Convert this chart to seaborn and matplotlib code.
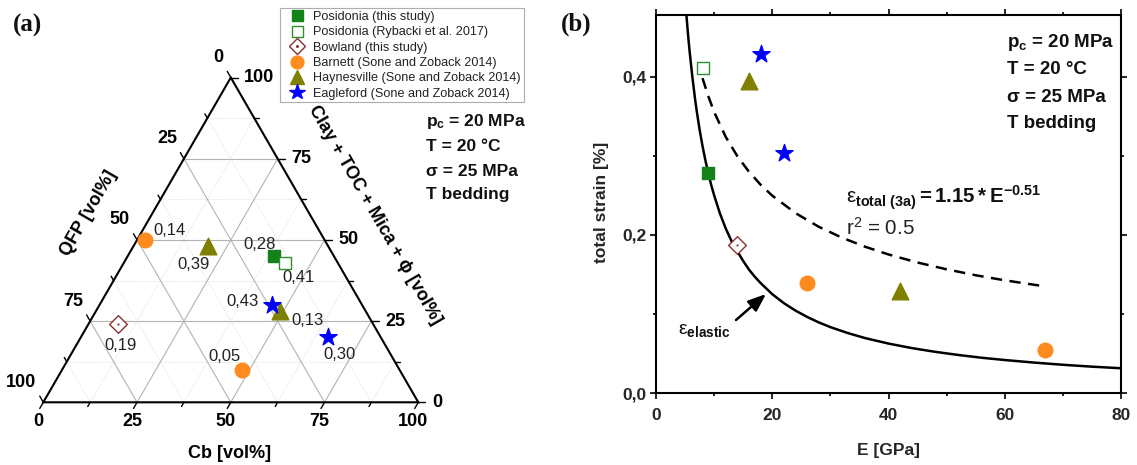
import numpy as np
import pandas as pd
import matplotlib
matplotlib.use("Agg")
import matplotlib.pyplot as plt
import seaborn as sns
from matplotlib.lines import Line2D
from matplotlib.ticker import MultipleLocator

# ---------------- data ----------------
series_names = ["Posidonia (this study)", "Posidonia (Rybacki et al. 2017)", "Bowland (this study)",
                "Barnett (Sone and Zoback 2014)", "Haynesville (Sone and Zoback 2014)",
                "Eagleford (Sone and Zoback 2014)"]
# ternary composition [vol%]
ternary_cb = [[39], [43], [8], [2, 48], [20, 49], [46, 66]]
ternary_clay = [[45], [43], [24], [50, 10], [48, 28], [30, 20]]
ternary_qfp = [[16], [14], [68], [48, 42], [32, 23], [24, 14]]
# panel (b)
young_modulus_gpa = [[9], [8], [14], [26, 67], [16, 42], [18, 22]]
total_strain_pct = [[0.278], [0.411], [0.187], [0.139, 0.054], [0.394, 0.129], [0.429, 0.303]]

elastic_E = [5.2, 5.4, 5.6, 5.8, 6, 6.25, 6.5, 6.75, 7, 7.5, 8, 8.5, 9, 9.5, 10, 11, 12, 13, 14,
             15, 16, 17, 18, 19, 20, 22, 24, 26, 28, 30, 33, 36, 40, 44, 48, 52, 56, 60, 65, 70,
             75, 80]
elastic_strain = [0.481, 0.463, 0.446, 0.431, 0.417, 0.400, 0.385, 0.370, 0.357, 0.333, 0.3125,
                  0.294, 0.278, 0.263, 0.250, 0.227, 0.208, 0.192, 0.179, 0.167, 0.156, 0.147,
                  0.139, 0.132, 0.125, 0.1136, 0.1042, 0.0962, 0.0893, 0.0833, 0.0758, 0.0694,
                  0.0625, 0.0568, 0.0521, 0.0481, 0.0446, 0.0417, 0.0385, 0.0357, 0.0333, 0.0313]
fit_E = [8, 9, 10, 12, 14, 16, 18, 20, 24, 28, 32, 36, 40, 45, 50, 55, 60, 67]
fit_strain = [0.3982, 0.3753, 0.3554, 0.3238, 0.2994, 0.2797, 0.2634, 0.2496, 0.2275, 0.2102,
              0.1964, 0.1849, 0.1752, 0.1650, 0.1564, 0.1489, 0.1425, 0.1347]

ternary_ticks = [0, 25, 50, 75, 100]
ternary_minor = [12.5, 37.5, 62.5, 87.5]
x_ticks = [0, 20, 40, 60, 80]
y_ticks = [0.0, 0.2, 0.4]
conditions = [r"p$_{\mathbf{c}}$ = 20 MPa", "T = 20 °C", "σ = 25 MPa", "T bedding"]

# ---------------- styles ----------------
markers = ['s', 's', 'D', 'o', '^', '*']
face_colors = ['#13821b', 'white', 'white', '#ff8b1f', '#808000', '#0000ff']
edge_colors = ['#13821b', '#2f8f2f', '#8c2f2f', '#ff8b1f', '#808000', '#0000ff']
marker_pt = [9, 9, 9, 10.5, 12, 13]
label_offsets = [[(-14, 12)], [(13, -15)], [(2, -21)], [(25, 9), (-18, 13)],
                 [(-15, -18), (28, -9)], [(-30, 3), (11, -17)]]

sns.set_theme(style="ticks")
plt.rcParams.update({
    "font.family": ["Liberation Sans", "DejaVu Sans"],
    "mathtext.fontset": "custom",
    "mathtext.rm": "Liberation Sans",
    "mathtext.bf": "Liberation Sans:bold",
    "mathtext.it": "Liberation Sans:italic",
    "mathtext.sf": "Liberation Sans",
    "text.color": "#111111",
})

W, H = 1137, 465
fig = plt.figure(figsize=(W / 100, H / 100), dpi=100)


def ftext(x, y, s, **kw):
    return fig.text(x / W, 1 - y / H, s, **kw)


# rows for tidy data
rows = []
for i, name in enumerate(series_names):
    for j in range(len(ternary_cb[i])):
        rows.append(dict(series=name, idx=i, cb=ternary_cb[i][j], clay=ternary_clay[i][j],
                         qfp=ternary_qfp[i][j], E=young_modulus_gpa[i][j],
                         strain=total_strain_pct[i][j], off=label_offsets[i][j]))
df = pd.DataFrame(rows)
SQ = np.sqrt(3) / 2


def tern(cb, clay):
    return cb + clay / 2.0, clay * SQ


df["tx"], df["ty"] = tern(df["cb"].values, df["clay"].values)

# ---------------- panel (a): ternary ----------------
S = 3.75
x0, y0 = 43.3, H - 402.3
axL = fig.add_axes([0, 0, 460 / W, 1])
axL.set_xlim(-x0 / S, (460 - x0) / S)
axL.set_ylim(-y0 / S, (H - y0) / S)
axL.axis("off")

for vals, col, lw, ls in [(ternary_minor, "#dedede", 0.6, (0, (1.5, 1.5))),
                          (ternary_ticks[1:-1], "#b3b3b3", 0.8, "-")]:
    for v in vals:
        for p1, p2 in [(tern(0, v), tern(100 - v, v)),
                       (tern(v, 0), tern(v, 100 - v)),
                       (tern(100 - v, 0), tern(0, 100 - v))]:
            axL.plot([p1[0], p2[0]], [p1[1], p2[1]], color=col, lw=lw, ls=ls, zorder=1)

tri = [tern(0, 0), tern(100, 0), tern(0, 100), tern(0, 0)]
axL.plot([p[0] for p in tri], [p[1] for p in tri], color="black", lw=1.5, zorder=2,
         solid_joinstyle="miter")

for vals, L in [(ternary_ticks, 1.9), (ternary_minor, 1.3)]:
    for v in vals:
        bx, by = tern(v, 0)
        axL.plot([bx, bx - 0.5 * L], [by, by - SQ * L], color="black", lw=1.0)
        rx, ry = tern(100 - v, v)
        axL.plot([rx, rx + L], [ry, ry], color="black", lw=1.0)
        lx, ly = tern(0, 100 - v)
        axL.plot([lx, lx - 0.5 * L], [ly, ly + SQ * L], color="black", lw=1.0)

tfont = dict(fontsize=13, fontweight="bold", color="black")
for v in ternary_ticks:
    axL.annotate(str(v), xy=tern(v, 0), xytext=(-5, -19), textcoords="offset pixels",
                 ha="center", va="center", **tfont)
    axL.annotate(str(v), xy=tern(100 - v, v), xytext=(13.5, 0), textcoords="offset pixels",
                 ha="left", va="center", **tfont)
    axL.annotate(str(v), xy=tern(0, 100 - v), xytext=(-7, 20), textcoords="offset pixels",
                 ha="right", va="center", **tfont)

ftext(230, 453, "Cb [vol%]", ha="center", va="center", **tfont)
ftext(88.5, 213, "QFP [vol%]", ha="center", va="center", rotation=60, **tfont)
ftext(375, 215, "Clay + TOC + Mica + ϕ [vol%]", ha="center", va="center", rotation=-60, **tfont)

for i, name in enumerate(series_names):
    sub = df[df["idx"] == i]
    sns.scatterplot(data=sub, x="tx", y="ty", marker=markers[i], s=marker_pt[i] ** 2,
                    color=face_colors[i], edgecolor=edge_colors[i], linewidth=1.0,
                    ax=axL, legend=False, zorder=4 + i)
    if markers[i] == 'D':
        sns.scatterplot(data=sub, x="tx", y="ty", marker='o', s=2, color=edge_colors[i],
                        edgecolor=edge_colors[i], ax=axL, legend=False, zorder=4 + i)

for _, r in df.iterrows():
    axL.annotate(f"{r['strain']:.2f}".replace(".", ","), xy=(r["tx"], r["ty"]), xytext=r["off"],
                 textcoords="offset pixels", ha="center", va="center", fontsize=12,
                 color="#222222")

for k, s in enumerate(conditions):
    ftext(426, [126.3, 151.3, 175.6, 199.5][k], s, ha="left", va="baseline",
          fontsize=12.5, fontweight="bold")

# legend
handles = []
for i in range(len(series_names)):
    h = Line2D([], [], ls="none", marker=markers[i], ms=marker_pt[i] * 0.88,
               mfc=face_colors[i], mec=edge_colors[i], mew=1.0)
    if markers[i] == 'D':
        h = (h, Line2D([], [], ls="none", marker='o', ms=1.2, color=edge_colors[i]))
    handles.append(h)
leg = fig.legend(handles, series_names, loc="upper left",
                 bbox_to_anchor=(280 / W, 1 - 8.3 / H), bbox_transform=fig.transFigure,
                 frameon=True, fancybox=False, edgecolor="#9a9a9a", fontsize=9.1,
                 borderpad=0.2, handlelength=2.25, handletextpad=0.2, labelspacing=0.27,
                 borderaxespad=0)
leg.get_frame().set_linewidth(0.8)
for t in leg.get_texts():
    t.set_color("#222222")

ftext(27.5, 25, "(a)", ha="center", va="center", fontsize=18, fontweight="bold",
      family="Liberation Serif")
ftext(576, 24, "(b)", ha="center", va="center", fontsize=18, fontweight="bold",
      family="Liberation Serif")

# ---------------- panel (b) ----------------
axR = fig.add_axes([656 / W, 72 / H, 465 / W, 378 / H])
sns.lineplot(x=elastic_E, y=elastic_strain, ax=axR, color="black", lw=1.8, sort=False,
             estimator=None, legend=False, zorder=2)
sns.lineplot(x=fit_E, y=fit_strain, ax=axR, color="black", lw=1.8, sort=False,
             estimator=None, legend=False, zorder=2, linestyle=(0, (4.5, 3)))
for i, name in enumerate(series_names):
    sub = df[df["idx"] == i]
    sns.scatterplot(data=sub, x="E", y="strain", marker=markers[i], s=marker_pt[i] ** 2,
                    color=face_colors[i], edgecolor=edge_colors[i], linewidth=1.0,
                    ax=axR, legend=False, zorder=4 + i)
    if markers[i] == 'D':
        sns.scatterplot(data=sub, x="E", y="strain", marker='o', s=2, color=edge_colors[i],
                        edgecolor=edge_colors[i], ax=axR, legend=False, zorder=4 + i)

axR.set_xlim(0, 80)
axR.set_ylim(0, 0.478)
axR.set_xticks(x_ticks)
axR.set_xticklabels([str(v) for v in x_ticks], fontweight="bold", fontsize=12.5)
axR.set_yticks(y_ticks)
axR.set_yticklabels([f"{v:.1f}".replace(".", ",") for v in y_ticks], fontweight="bold",
                    fontsize=12.5)
axR.xaxis.set_minor_locator(MultipleLocator(10))
axR.yaxis.set_minor_locator(MultipleLocator(0.1))
axR.tick_params(which="both", direction="out", top=True, right=True, width=1.2, color="black")
axR.tick_params(which="major", length=4)
axR.tick_params(which="minor", length=2.5)
axR.tick_params(axis="x", which="major", pad=7)
axR.tick_params(axis="y", which="major", pad=3)
for sp in axR.spines.values():
    sp.set_linewidth(1.5)
    sp.set_color("black")
axR.set_xlabel("E [GPa]", fontweight="bold", fontsize=12.5, va="center")
axR.xaxis.set_label_coords(0.5, (15 - 72) / 378)
axR.set_ylabel("total strain [%]", fontweight="bold", fontsize=12.5, va="center")
axR.yaxis.set_label_coords((601.7 - 656) / 465, 0.503)

for k, s in enumerate(conditions):
    ftext(1007, [47.3, 74.5, 101.5, 128.3][k], s, ha="left", va="baseline",
          fontsize=13.5, fontweight="bold")

ftext(846, 203.3, r"$\mathrm{\varepsilon}_{\mathbf{total\ (3a)}} \mathbf{= 1.15 * E}^{\mathbf{-0.51}}$",
      ha="left", va="baseline", fontsize=14.8)
ftext(846, 235, r"r$^2$ = 0.5", ha="left", va="baseline", fontsize=14.8, color="#222222")
ftext(678, 330, r"$\mathrm{\varepsilon}_{\mathbf{elastic}}$", ha="left", va="center", fontsize=14)
axR.annotate("", xy=(766, H - 294), xycoords="figure pixels", xytext=(736, H - 320),
             textcoords="figure pixels",
             arrowprops=dict(arrowstyle="-|>,head_length=0.9,head_width=0.35", color="black",
                             lw=1.8, shrinkA=0, shrinkB=0))

fig.savefig("out.png", dpi=100)
